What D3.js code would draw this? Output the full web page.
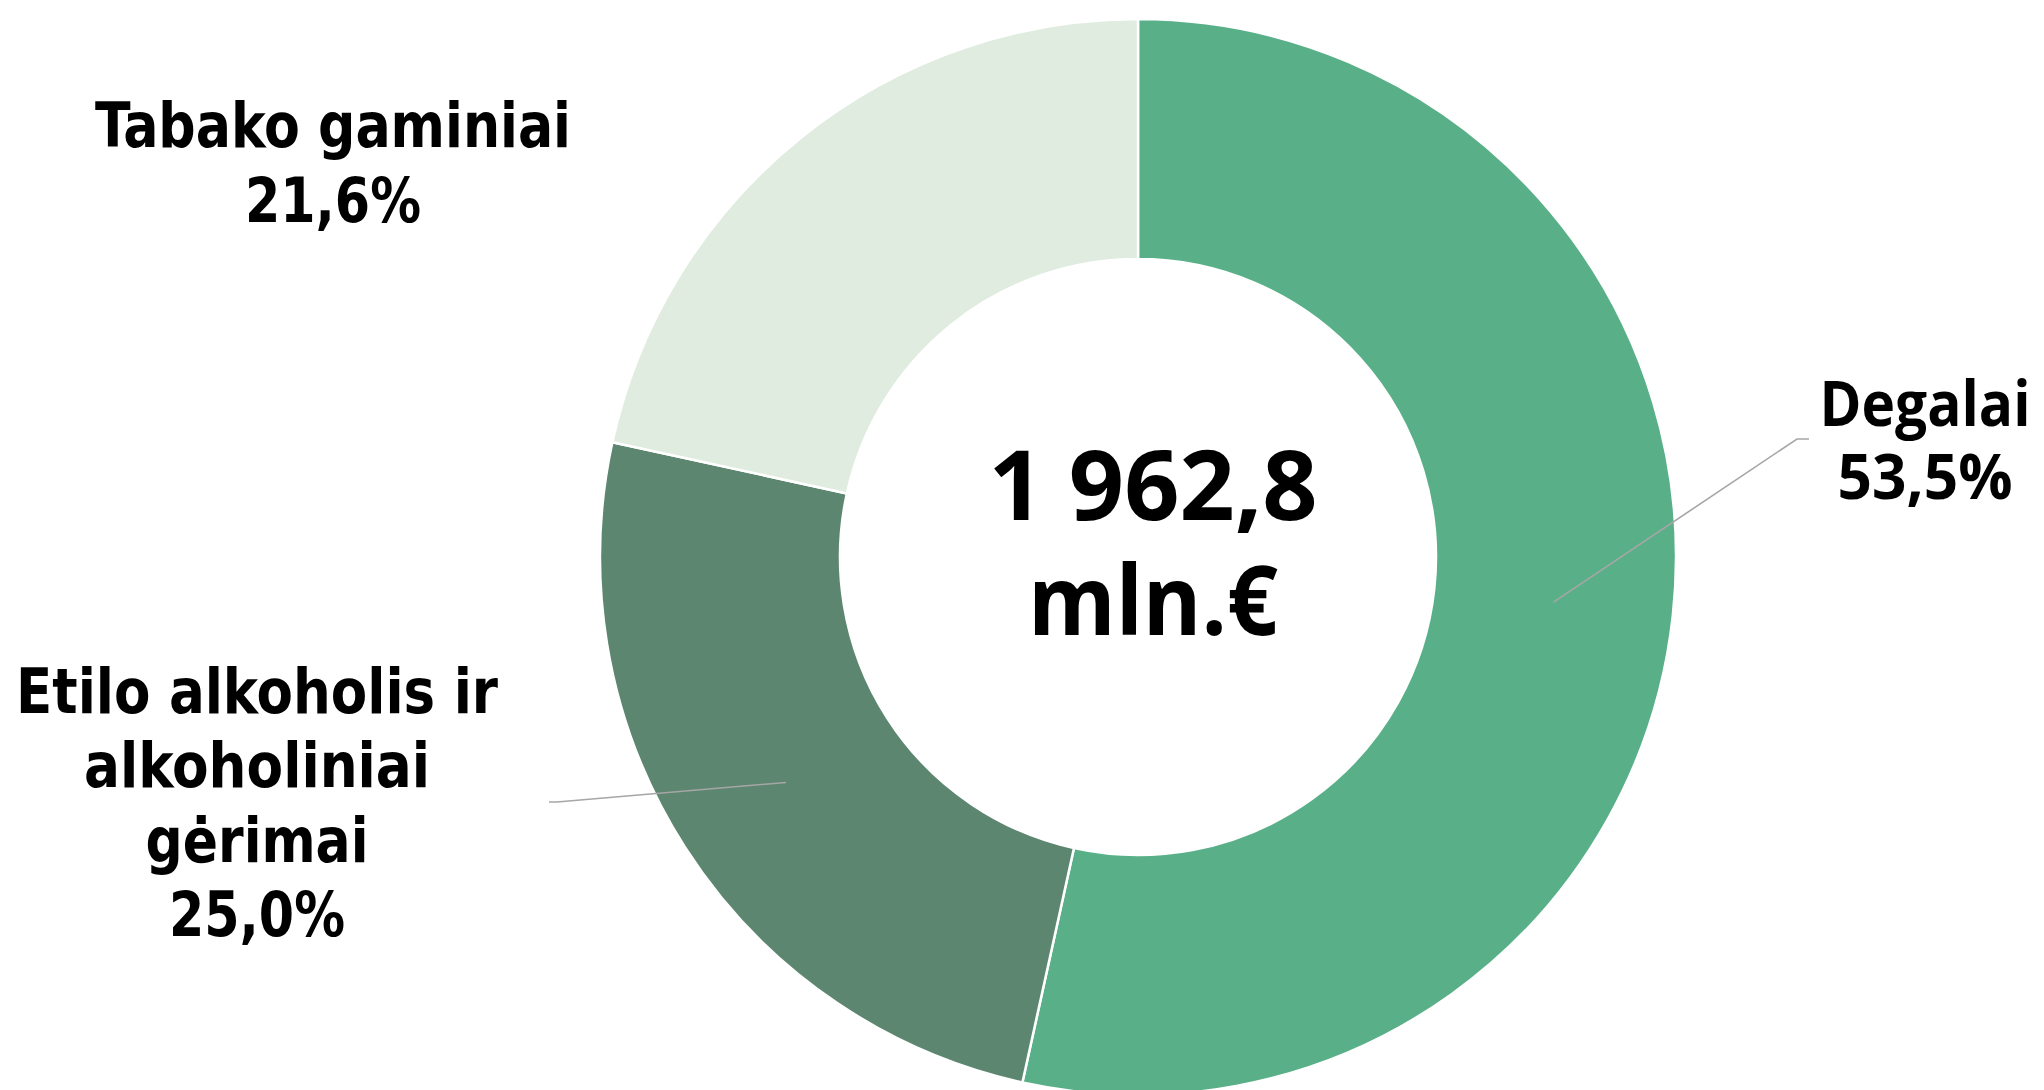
<!DOCTYPE html>
<html>
<head>
<meta charset="utf-8">
<script src="https://cdn.jsdelivr.net/npm/d3@7"></script>
<style>
  html, body { margin: 0; padding: 0; background: #fff; }
  svg { display: block; }
</style>
</head>
<body>
<svg id="chart" width="2044" height="1090"></svg>
<script>
// ---- data ----
const categories = ["Degalai", "Etilo alkoholis ir alkoholiniai gėrimai", "Tabako gaminiai"];
const shares = [53.5, 25.0, 21.6];
const labelLines = [["Degalai"], ["Etilo alkoholis ir", "alkoholiniai", "gėrimai"], ["Tabako gaminiai"]];
const sliceColors = ["#59B088", "#5D8670", "#E0ECE0"];
const totalLines = ["1 962,8", "mln.€"];

// ---- layout / style ----
const W = 2044, H = 1090;
const cx = 1138, cy = 557;
const outerR = 538, innerR = 298;

const labelLayout = [
  { x: 1925, y0: 426, dy: 73, font: "'Open Sans', 'Noto Sans', sans-serif", stretch: "normal", size: 62,
    widths: [211, 175], elbow: [1797, 439], end: [1809, 439] },
  { x: 257, y0: 713, dy: 74.3, font: "'DejaVu Sans Condensed', 'DejaVu Sans', sans-serif", stretch: "condensed", size: 62,
    widths: [482, 346, 223, 176], elbow: [557, 802], end: [549, 802] },
  { x: 333, y0: 147, dy: 75, font: "'DejaVu Sans Condensed', 'DejaVu Sans', sans-serif", stretch: "condensed", size: 62,
    widths: [476, 176], elbow: null, end: null }
];

const svg = d3.select("#chart");
const g = svg.append("g").attr("transform", `translate(${cx},${cy})`);

const pie = d3.pie().sort(null).value(d => d)(shares);
const arc = d3.arc().innerRadius(innerR).outerRadius(outerR);
const midArc = d3.arc().innerRadius(418).outerRadius(418);

g.selectAll("path.slice")
  .data(pie)
  .join("path")
  .attr("class", "slice")
  .attr("d", arc)
  .attr("fill", (d, i) => sliceColors[i])
  .attr("stroke", "#ffffff")
  .attr("stroke-width", 2.5)
  .attr("stroke-linejoin", "miter");

const fmt = v => d3.format(".1f")(v).replace(".", ",") + "%";

// leader lines
pie.forEach((d, i) => {
  const L = labelLayout[i];
  if (!L.elbow) return;
  const c = midArc.centroid(d);
  const p0 = [c[0] + cx, c[1] + cy];
  svg.append("polyline")
    .attr("points", [p0, L.elbow, L.end].map(p => p.join(",")).join(" "))
    .attr("fill", "none")
    .attr("stroke", "#A6A6A6")
    .attr("stroke-width", 1.6);
});

// labels
pie.forEach((d, i) => {
  const L = labelLayout[i];
  const lines = labelLines[i].concat([fmt(shares[i])]);
  const t = svg.append("g");
  lines.forEach((s, j) => {
    t.append("text")
      .attr("x", L.x)
      .attr("y", L.y0 + j * L.dy)
      .attr("text-anchor", "middle")
      .attr("font-family", L.font)
      .attr("font-stretch", L.stretch)
      .attr("font-weight", 700)
      .attr("font-size", L.size)
      .attr("fill", "#000")
      .attr("textLength", L.widths[j])
      .attr("lengthAdjust", "spacingAndGlyphs")
      .text(s);
  });
});

// center total
const totalWidths = [329, 250];
const totalY = [520, 635];
totalLines.forEach((s, j) => {
  svg.append("text")
    .attr("x", 1153)
    .attr("y", totalY[j])
    .attr("text-anchor", "middle")
    .attr("font-family", "'Open Sans', 'Noto Sans', sans-serif")
    .attr("font-weight", 700)
    .attr("font-size", 96)
    .attr("fill", "#000")
    .attr("textLength", totalWidths[j])
    .attr("lengthAdjust", "spacingAndGlyphs")
    .text(s);
});
</script>
</body>
</html>
